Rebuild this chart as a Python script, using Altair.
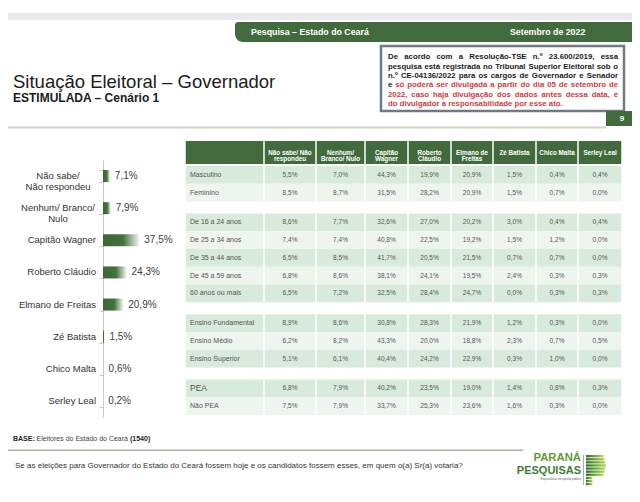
import altair as alt
import pandas as pd

# ---------------- data ----------------
bar_categories = ["Não sabe/\nNão respondeu", "Nenhum/ Branco/\nNulo", "Capitão Wagner",
                  "Roberto Cláudio", "Elmano de Freitas", "Zé Batista", "Chico Malta", "Serley Leal"]
bar_values = [7.1, 7.9, 37.5, 24.3, 20.9, 1.5, 0.6, 0.2]

table_columns = ["Não sabe/ Não\nrespondeu", "Nenhum/\nBranco/ Nulo", "Capitão\nWagner",
                 "Roberto\nCláudio", "Elmano de\nFreitas", "Zé Batista", "Chico Malta", "Serley Leal"]

sexo_rows = ["Masculino", "Feminino"]
sexo_values = [[5.5, 7.0, 44.3, 19.9, 20.9, 1.5, 0.4, 0.4],
               [8.5, 8.7, 31.5, 28.2, 20.9, 1.5, 0.7, 0.0]]
idade_rows = ["De 16 a 24 anos", "De 25 a 34 anos", "De 35 a 44 anos", "De 45 a 59 anos", "60 anos ou mais"]
idade_values = [[8.6, 7.7, 32.6, 27.0, 20.2, 3.0, 0.4, 0.4],
                [7.4, 7.4, 40.8, 22.5, 19.2, 1.5, 1.2, 0.0],
                [6.5, 8.5, 41.7, 20.5, 21.5, 0.7, 0.7, 0.0],
                [6.8, 8.6, 38.1, 24.1, 19.5, 2.4, 0.3, 0.3],
                [6.5, 7.2, 32.5, 28.4, 24.7, 0.0, 0.3, 0.3]]
escolaridade_rows = ["Ensino Fundamental", "Ensino Médio", "Ensino Superior"]
escolaridade_values = [[8.9, 8.6, 30.8, 28.3, 21.9, 1.2, 0.3, 0.0],
                       [6.2, 8.2, 43.3, 20.0, 18.8, 2.3, 0.7, 0.5],
                       [5.1, 6.1, 40.4, 24.2, 22.9, 0.3, 1.0, 0.0]]
pea_rows = ["PEA", "Não PEA"]
pea_values = [[6.8, 7.9, 40.2, 23.5, 19.0, 1.4, 0.8, 0.3],
              [7.5, 7.9, 33.7, 25.3, 23.6, 1.6, 0.3, 0.0]]

group_rows = [sexo_rows, idade_rows, escolaridade_rows, pea_rows]
group_values = [sexo_values, idade_values, escolaridade_values, pea_values]

legal_lines = ["De acordo com a Resolução-TSE n.º 23.600/2019, essa",
               "pesquisa está registrada no Tribunal Superior Eleitoral sob o",
               "n.º CE-04136/2022 para os cargos de Governador e Senador",
               "e só poderá ser divulgada a partir do dia 05 de setembro de",
               "2022, caso haja divulgação dos dados antes dessa data, é",
               "do divulgador a responsabilidade por esse ato."]

# ---------------- styles ----------------
W, H = 624, 486
FONT = "Liberation Sans, Arial, sans-serif"
GREEN = "#426b3d"
DARK_ROW = "#d8eadb"
LIGHT_ROW = "#edf5ee"
RED = "#d23a3a"
BLACK = "#1b1b1b"

one = pd.DataFrame({"d": [0]})


def rect(x, x2, y, y2, **kw):
    return alt.Chart(one).mark_rect(**kw).encode(
        x=alt.value(x), x2=alt.value(x2), y=alt.value(y), y2=alt.value(y2))


def text(s, x, y, **kw):
    kw.setdefault("font", FONT)
    return alt.Chart(one).mark_text(text=s, **kw).encode(x=alt.value(x), y=alt.value(y))


# approximate Arial Bold advance widths (per 1000 em) used to justify the legal note
BOLD_W = {" ": 278, ",": 278, "-": 333, ".": 278, "/": 278, ":": 333, "º": 365,
          "A": 722, "C": 722, "D": 722, "E": 667, "G": 778, "R": 722, "S": 667, "T": 611,
          "a": 556, "b": 611, "c": 556, "d": 611, "e": 556, "f": 333, "g": 611, "h": 611,
          "i": 278, "j": 278, "l": 278, "m": 889, "n": 611, "o": 611, "p": 611, "q": 611,
          "r": 389, "s": 556, "t": 333, "u": 611, "v": 556, "á": 556, "ã": 556, "ç": 556,
          "é": 556, "ó": 611}


def word_w(wd, fs):
    return sum(BOLD_W.get(ch, 556) for ch in wd) * fs / 1000.0


deco = [
    rect(0, W, 5, 12, color="#e8eaed"),
    rect(227, W + 10, 14, 34, color=GREEN, cornerRadiusBottomLeft=8, cornerRadiusTopLeft=3),
    text("Pesquisa – Estado do Ceará", 243, 24, align="left", baseline="middle",
         fontSize=8.8, fontWeight="bold", color="white"),
    text("Setembro de 2022", 502, 24, align="left", baseline="middle",
         fontSize=8.8, fontWeight="bold", color="white"),
    text("Situação Eleitoral – Governador", 5, 80, align="left", baseline="alphabetic",
         fontSize=18.5, color=BLACK),
    text("ESTIMULADA – Cenário 1", 5, 94, align="left", baseline="alphabetic",
         fontSize=12, fontWeight="bold", color=BLACK),
    rect(373, 616, 38, 103, fill="white", stroke="#6f7a84", strokeWidth=2.5),
    rect(598, W + 10, 103, 118, color=GREEN),
    text("9", 614, 111, baseline="middle", fontSize=8, fontWeight="bold", color="white"),
    rect(0, 598, 118.5, 120.5, color="#cbd4c6"),
]

# justified legal note
FS = 7.8
LX0, LX1 = 380, 610
for i, line in enumerate(legal_lines):
    y = 49.3 + i * 9.3
    words = line.split(" ")
    widths = [word_w(wd, FS) for wd in words]
    if i < len(legal_lines) - 1 and len(words) > 1:
        gap = (LX1 - LX0 - sum(widths)) / (len(words) - 1)
    else:
        gap = BOLD_W[" "] * FS / 1000.0
    x = LX0
    for j, (wd, ww) in enumerate(zip(words, widths)):
        col = BLACK if (i < 3 or (i == 3 and j == 0)) else RED
        deco.append(text(wd, x, y, align="left", baseline="middle",
                         fontSize=FS, fontWeight="bold", color=col))
        x += ww + gap

# bottom
deco += [
    text("BASE:", 5, 431, align="left", baseline="middle", fontSize=7, fontWeight="bold", color="#222"),
    text("Eleitores do Estado do Ceará", 28.5, 431, align="left", baseline="middle", fontSize=7, color="#444"),
    text("(1540)", 122, 431, align="left", baseline="middle", fontSize=7, fontWeight="bold", color="#222"),
    rect(0, 515, 441.5, 443, color="#aab6a4"),
    text("Se as eleições para Governador do Estado do Ceará fossem hoje e os candidatos fossem esses, em quem o(a) Sr(a) votaria?",
         7, 458, align="left", baseline="middle", fontSize=8, color="#333"),
    text("PARANÁ", 573, 453, align="right", baseline="alphabetic",
         fontSize=11.3, fontWeight="bold", color="#5f9a3a"),
    text("PESQUISAS", 573, 465.5, align="right", baseline="alphabetic",
         fontSize=11, fontWeight="bold", color="#3f7d34"),
    text("Especialistas em opinião pública", 573, 471, align="right", baseline="middle",
         fontSize=2.8, color="#555"),
    rect(575, 575.8, 447, 477, color="#999"),
]
logo_grad = alt.LinearGradient(gradient="linear", x1=0, x2=1, y1=0, y2=0,
                               stops=[alt.GradientStop(color="#2d6a2a", offset=0),
                                      alt.GradientStop(color="#6ea83c", offset=0.5),
                                      alt.GradientStop(color="#b8d65a", offset=1)])
for j in range(7):
    deco.append(rect(578, 598 - abs(j - 3) * 0.8, 447 + j * 3.1, 449.3 + j * 3.1, color=logo_grad))
for j in range(3):
    deco.append(rect(578, 584.5, 469 + j * 3.0, 471.2 + j * 3.0, color=logo_grad))

# ---------------- bar chart ----------------
bars_df = pd.DataFrame({"cat": bar_categories, "v": bar_values})
bars_df["multi"] = bars_df["cat"].str.contains("\n")

ysc = alt.Scale(domain=bar_categories, range=[152, 409], paddingInner=0.625, paddingOuter=0.3125)
xsc = alt.Scale(domain=[0, 40], range=[95, 95 + 40 * 0.968], nice=False, zero=True)

bar_grad = alt.LinearGradient(gradient="linear", x1=0, x2=1, y1=0, y2=0,
                              stops=[alt.GradientStop(color="#3a6935", offset=0),
                                     alt.GradientStop(color="#44713f", offset=0.55),
                                     alt.GradientStop(color="#f2f6f0", offset=1)])

bbase = alt.Chart(bars_df)
bars = bbase.mark_bar(color=bar_grad).encode(
    x=alt.X("v:Q", scale=xsc, axis=None),
    y=alt.Y("cat:N", scale=ysc, sort=None,
            axis=alt.Axis(labels=False, title=None, orient="left", offset=-95, grid=False,
                          domainColor="#c8c8c8", tickColor="#c8c8c8", tickSize=4,
                          tickBand="extent")),
)
bar_vals = bbase.transform_calculate(
    lab="replace(format(datum.v, '.1f'), '.', ',') + '%'"
).mark_text(align="left", dx=5, baseline="middle", fontSize=10, font=FONT, color="#404040").encode(
    x=alt.X("v:Q", scale=xsc, axis=None),
    y=alt.Y("cat:N", scale=ysc, sort=None),
    text="lab:N",
)
cat_single = bbase.transform_filter("!datum.multi").mark_text(
    align="right", baseline="middle", fontSize=9.5, font=FONT, color="#333").encode(
    x=alt.value(88), y=alt.Y("cat:N", scale=ysc, sort=None), text="cat:N")
cat_multi = bbase.transform_filter("datum.multi").mark_text(
    align="center", baseline="middle", fontSize=9.5, font=FONT, color="#333",
    lineBreak="\n", lineHeight=11).encode(
    x=alt.value(50), y=alt.Y("cat:N", scale=ysc, sort=None), text="cat:N")

bar_group = alt.layer(bars, bar_vals, cat_single, cat_multi)

# ---------------- table ----------------
recs = []
r = 0
for g, (names, vals) in enumerate(zip(group_rows, group_values)):
    for k, (name, vs) in enumerate(zip(names, vals)):
        recs.append({"row": name, "g": g, "k": k, "r": r, "c": 0, "v": None})
        for c, v in enumerate(vs):
            recs.append({"row": name, "g": g, "k": k, "r": r, "c": c + 1, "v": v})
        r += 1
cells_df = pd.DataFrame(recs)
hdr_df = pd.DataFrame({"c": list(range(len(table_columns) + 1)), "name": [""] + table_columns})

tx = alt.Scale(domain=list(range(10)), range=[177, 256, 308, 357, 400, 443, 485, 528, 570, 614],
               nice=False, zero=False)
ty = alt.Scale(domain=[0, 14.025], range=[158, 407], nice=False, zero=False)

cbase = alt.Chart(cells_df).transform_calculate(
    slot="datum.r + datum.g * 0.675",
    slot2="datum.r + datum.g * 0.675 + 1",
    slotm="datum.r + datum.g * 0.675 + 0.5",
    c2="datum.c + 1",
    cx="datum.c + 0.5",
)
cell_rect = cbase.mark_rect(xOffset=0.75, x2Offset=-0.75).encode(
    x=alt.X("c:Q", scale=tx, axis=None), x2="c2:Q",
    y=alt.Y("slot:Q", scale=ty, axis=None), y2="slot2:Q",
    color=alt.condition("datum.k % 2 == 0", alt.value(DARK_ROW), alt.value(LIGHT_ROW)),
)
cell_text = cbase.transform_filter("datum.c > 0").transform_calculate(
    lab="replace(format(datum.v, '.1f'), '.', ',') + '%'"
).mark_text(baseline="middle", fontSize=6.5, font=FONT, color="#555").encode(
    x=alt.X("cx:Q", scale=tx, axis=None),
    y=alt.Y("slotm:Q", scale=ty, axis=None),
    text="lab:N",
)
row_text = cbase.transform_filter("datum.c == 0").mark_text(
    align="left", dx=5, baseline="middle", font=FONT, color="#555").encode(
    x=alt.X("c:Q", scale=tx, axis=None),
    y=alt.Y("slotm:Q", scale=ty, axis=None),
    text="row:N",
    size=alt.condition("datum.row == 'PEA'", alt.value(8.5), alt.value(7)),
)
hbase = alt.Chart(hdr_df).transform_calculate(c2="datum.c + 1", cx="datum.c + 0.5")
hdr_rect = hbase.mark_rect(xOffset=0.75, x2Offset=-0.75, color=GREEN).encode(
    x=alt.X("c:Q", scale=tx, axis=None), x2="c2:Q", y=alt.value(133), y2=alt.value(156))
hdr_text = hbase.transform_filter("datum.c > 0").mark_text(
    baseline="middle", fontSize=6.3, fontWeight="bold", font=FONT, color="white",
    lineBreak="\n", lineHeight=6.8).encode(
    x=alt.X("cx:Q", scale=tx, axis=None), y=alt.value(144.5), text="name:N")

table_group = alt.layer(hdr_rect, hdr_text, cell_rect, cell_text, row_text)

chart = alt.layer(*deco, bar_group, table_group).resolve_scale(
    x="independent", y="independent", size="independent"
).properties(
    width=W, height=H, padding=0, autosize=alt.AutoSizeParams(type="none"), background="white"
).configure_view(stroke=None)

chart.save("out.html", embed_options={"renderer": "svg", "actions": False})
